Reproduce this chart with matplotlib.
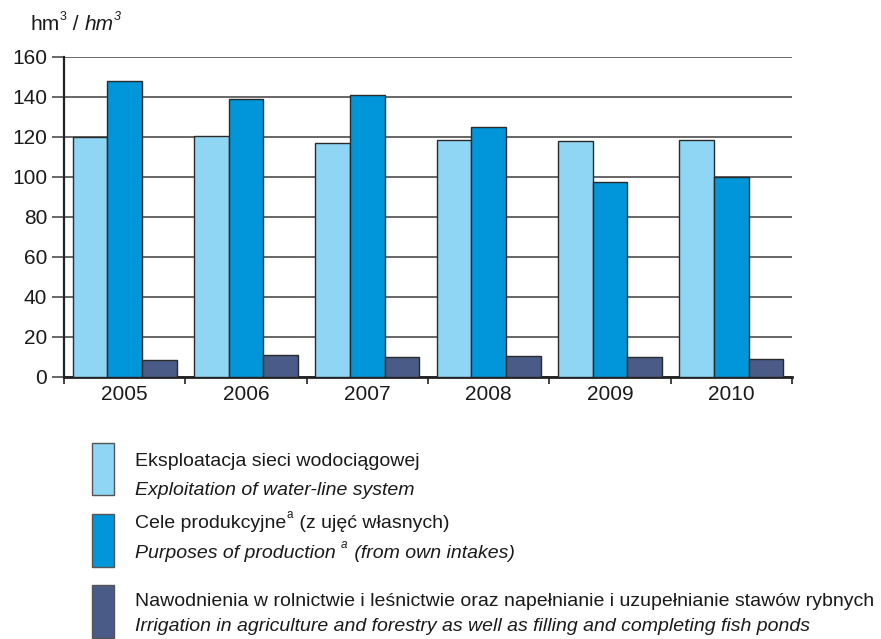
import matplotlib
matplotlib.use("Agg")
import matplotlib.pyplot as plt
from matplotlib.patches import Rectangle
import numpy as np

FONT = "Liberation Sans"
plt.rcParams['font.family'] = [FONT, 'DejaVu Sans']
plt.rcParams['text.color'] = '#1a1a1a'
plt.rcParams['xtick.color'] = '#1a1a1a'
plt.rcParams['ytick.color'] = '#1a1a1a'

years = ["2005", "2006", "2007", "2008", "2009", "2010"]
water_line = [120.2, 120.7, 116.8, 118.3, 117.8, 118.3]
production = [148.2, 139.2, 141.0, 124.8, 97.3, 99.8]
irrigation = [8.5, 10.8, 10.2, 10.7, 10.2, 8.8]
yticks = [0, 20, 40, 60, 80, 100, 120, 140, 160]

colors = ["#8fd6f4", "#0096d9", "#4a5b87"]
# each label: list of (text, is_superscript)
labels_pl = [[("Eksploatacja sieci wodociągowej", False)],
             [("Cele produkcyjne", False), ("a", True), (" (z ujęć własnych)", False)],
             [("Nawodnienia w rolnictwie i leśnictwie oraz napełnianie i uzupełnianie stawów rybnych", False)]]
labels_en = [[("Exploitation of water-line system", False)],
             [("Purposes of production ", False), ("a", True), (" (from own intakes)", False)],
             [("Irrigation in agriculture and forestry as well as filling and completing fish ponds", False)]]
unit_runs = [("hm", False, "normal"), ("3", True, "normal"), (" / ", False, "normal"),
             ("hm", False, "italic"), ("3", True, "italic")]

W, H = 881, 639
fig = plt.figure(figsize=(W / 100, H / 100), dpi=100)
renderer = fig.canvas.get_renderer()
ax = fig.add_axes([64 / W, 1 - 377 / H, (792 - 64) / W, (377 - 57) / H])

x = np.arange(len(years))
bw = 0.285
for i, (vals, c) in enumerate(zip([water_line, production, irrigation], colors)):
    ax.bar(x + (i - 1) * bw, vals, bw, color=c, edgecolor="#2a2a2a", linewidth=1.0, zorder=3)

ax.set_xlim(-0.5, len(years) - 0.5)
ax.set_ylim(0, 160)
ax.set_yticks(yticks)
ax.set_yticklabels([str(v) for v in yticks], fontsize=15)
ax.yaxis.grid(True, color="#4d4d4d", linewidth=1.2, zorder=0)
ax.set_axisbelow(True)
ax.tick_params(axis="y", direction="out", length=9, width=1.2, color="#4d4d4d", pad=3)

ax.set_xticks(x)
ax.set_xticklabels(years, fontsize=15)
ax.tick_params(axis="x", length=0, pad=6)
ax.set_xticks(np.arange(-0.5, len(years) + 0.5, 1), minor=True)
ax.tick_params(axis="x", which="minor", direction="out", length=5, width=1.2, color="#222222")

for s in ["top", "right"]:
    ax.spines[s].set_visible(False)
ax.spines["left"].set_color("#222222")
ax.spines["left"].set_linewidth(1.6)
ax.spines["bottom"].set_color("#222222")
ax.spines["bottom"].set_linewidth(2.0)


def draw_runs(x_px, y_px, runs, size, style="normal", sup_size=None, sup_dy=None):
    """Draw consecutive text runs; x_px, y_px in pixels from top-left, y = baseline."""
    if sup_size is None:
        sup_size = size * 0.6
    if sup_dy is None:
        sup_dy = size * 1.389 * 0.5
    cx = x_px
    for r in runs:
        txt, sup = r[0], r[1]
        st = r[2] if len(r) > 2 else style
        fs = sup_size if sup else size
        yy = y_px - (sup_dy if sup else 0)
        t = fig.text(cx / W, 1 - yy / H, txt, fontsize=fs, style=st,
                     ha="left", va="baseline")
        bb = t.get_window_extent(renderer=renderer)
        cx += bb.width + (1 if sup else 0)


draw_runs(30, 30, unit_runs, 15)

boxes = [(443, 495), (514, 567), (585, 638)]
text_base = [(466, 495), (528, 558), (606, 631)]
for (y0, y1), (b1, b2), c, lp, le in zip(boxes, text_base, colors, labels_pl, labels_en):
    fig.patches.append(Rectangle((92 / W, 1 - y1 / H), 22 / W, (y1 - y0) / H,
                                 transform=fig.transFigure, facecolor=c,
                                 edgecolor="#555555", linewidth=1.0))
    draw_runs(135, b1, lp, 14)
    draw_runs(135, b2, le, 14, style="italic")

fig.savefig("out.png", dpi=100)
